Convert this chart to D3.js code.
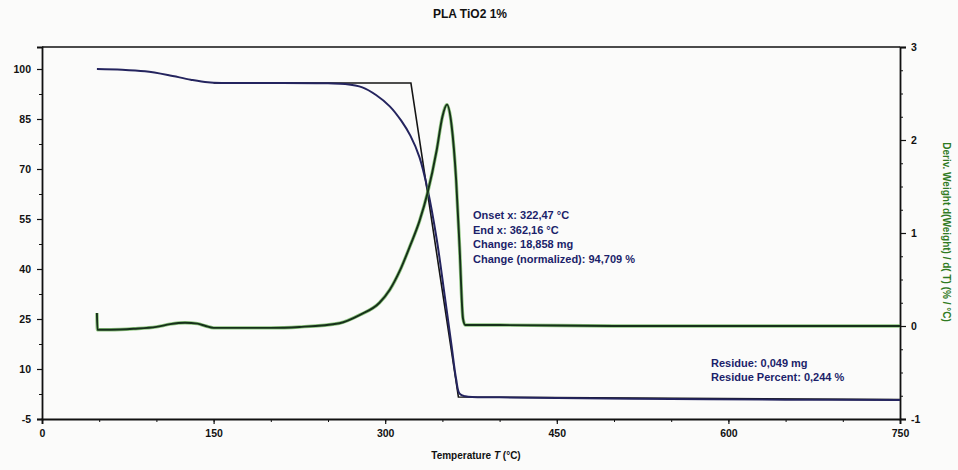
<!DOCTYPE html>
<html>
<head>
<meta charset="utf-8">
<script src="https://cdn.jsdelivr.net/npm/d3@7"></script>
<style>
  html, body { margin: 0; padding: 0; background: #fbfbfa; }
  svg { display: block; font-family: "Liberation Sans", Arial, sans-serif; }
</style>
</head>
<body>
<svg id="chart" width="958" height="470"></svg>
<script>
// ---- data ----
const title = "PLA TiO2 1%";
const xTicks = [0, 150, 300, 450, 600, 750];
const leftTicks = [100, 85, 70, 55, 40, 25, 10, -5];
const rightTicks = [3, 2, 1, 0, -1];

// Weight (%) vs temperature (°C)
const weightT = [48, 70, 90, 110, 130, 145, 160, 200, 250, 265, 280, 292, 304, 314, 322, 330, 337, 345, 352, 358, 362, 365, 370, 400, 450, 550, 650, 750];
const weightV = [100, 99.8, 99.3, 98.2, 96.8, 96.0, 95.8, 95.8, 95.7, 95.5, 94.5, 92.2, 88.8, 84.5, 80, 73.5, 64, 49, 32, 17, 7, 2.6, 1.8, 1.5, 1.3, 1.0, 0.8, 0.7];

// Derivative weight (%/°C) vs temperature (°C)
const derivT = [48, 48.5, 60, 80, 100, 112, 125, 136, 143, 150, 160, 200, 225, 260, 278, 295, 304, 313, 322, 330, 337, 345, 350, 354, 358, 362, 365, 368, 370, 400, 500, 600, 750];
const derivV = [0.14, -0.04, -0.04, -0.03, -0.01, 0.02, 0.035, 0.025, 0.0, -0.02, -0.02, -0.02, -0.01, 0.03, 0.12, 0.25, 0.39, 0.6, 0.87, 1.13, 1.43, 1.89, 2.25, 2.38, 2.16, 1.57, 0.85, 0.08, 0.01, 0.01, 0.0, 0.0, 0.0];

// Onset / end construction line
const stepT = [150, 322.47, 364, 750];
const stepV = [95.8, 95.8, 1.6, 0.8];

const onsetLines = ["Onset x: 322,47 °C", "End x: 362,16 °C", "Change: 18,858 mg", "Change (normalized): 94,709 %"];
const residueLines = ["Residue: 0,049 mg", "Residue Percent: 0,244 %"];

// ---- layout ----
const svg = d3.select("#chart");
const L = 42, R = 900, T = 47, B = 419;

const x = d3.scaleLinear().domain([0, 750]).range([L, R]);
const yL = d3.scaleLinear().domain([-5, -5 + (B - T) * 15 / 50]).range([B, T]);
const yR = d3.scaleLinear().domain([-1, 3]).range([B, T]);

const ink = "#111";
const fmt = d => String(d);

// frame top line
svg.append("line").attr("x1", L).attr("x2", R).attr("y1", T).attr("y2", T)
  .attr("stroke", ink).attr("stroke-width", 1.6);

// minor ticks
svg.append("g").attr("transform", `translate(0,${B})`)
  .call(d3.axisBottom(x).tickValues(d3.range(0, 751, 50)).tickSize(3).tickFormat(""))
  .call(g => g.select(".domain").remove());
svg.append("g").attr("transform", `translate(${L},0)`)
  .call(d3.axisLeft(yL).tickValues(d3.range(-5, 106, 7.5)).tickSize(3).tickFormat(""))
  .call(g => g.select(".domain").remove());
svg.append("g").attr("transform", `translate(${R},0)`)
  .call(d3.axisRight(yR).tickValues(d3.range(-1, 3.01, 0.25)).tickSize(3).tickFormat(""))
  .call(g => g.select(".domain").remove());

// major axes
const xAxis = svg.append("g").attr("transform", `translate(0,${B})`)
  .call(d3.axisBottom(x).tickValues(xTicks).tickFormat(fmt).tickSize(5).tickPadding(6));
const lAxis = svg.append("g").attr("transform", `translate(${L},0)`)
  .call(d3.axisLeft(yL).tickValues(leftTicks).tickFormat(fmt).tickSize(5).tickPadding(6));
const rAxis = svg.append("g").attr("transform", `translate(${R},0)`)
  .call(d3.axisRight(yR).tickValues(rightTicks).tickFormat(fmt).tickSize(6).tickPadding(5));

[xAxis, lAxis, rAxis].forEach(a => {
  a.select(".domain").attr("stroke", ink).attr("stroke-width", 1.8);
  a.selectAll(".tick line").attr("stroke", ink).attr("stroke-width", 1.2);
  a.selectAll(".tick text").attr("fill", ink).attr("font-size", 10.5).attr("font-weight", "bold");
});
svg.selectAll("g .tick line").attr("stroke", ink);
svg.selectAll(".domain").attr("stroke", ink);

// ---- curves ----
const weightData = weightT.map((t, i) => [t, weightV[i]]);
const derivData = derivT.map((t, i) => [t, derivV[i]]);
const stepData = stepT.map((t, i) => [t, stepV[i]]);

const lineW = d3.line().x(d => x(d[0])).y(d => yL(d[1])).curve(d3.curveCatmullRom.alpha(0.5));
const lineD = d3.line().x(d => x(d[0])).y(d => yR(d[1])).curve(d3.curveMonotoneX);
const lineS = d3.line().x(d => x(d[0])).y(d => yL(d[1]));

svg.append("path").datum(stepData).attr("d", lineS)
  .attr("fill", "none").attr("stroke", "#151515").attr("stroke-width", 1.6);

svg.append("path").datum(weightData).attr("d", lineW)
  .attr("fill", "none").attr("stroke", "#24245e").attr("stroke-width", 2);

svg.append("path").datum(derivData).attr("d", lineD)
  .attr("fill", "none").attr("stroke", "#5fae4a").attr("stroke-width", 3.4).attr("stroke-opacity", 0.7);
svg.append("path").datum(derivData).attr("d", lineD)
  .attr("fill", "none").attr("stroke", "#16301a").attr("stroke-width", 1.9);

// ---- text ----
svg.append("text").attr("x", 470).attr("y", 18).attr("text-anchor", "middle")
  .attr("font-size", 12).attr("font-weight", "bold").attr("fill", ink).text(title);

const xl = svg.append("text").attr("x", 476).attr("y", 459).attr("text-anchor", "middle")
  .attr("font-size", 10).attr("font-weight", "bold").attr("fill", ink);
xl.append("tspan").text("Temperature ");
xl.append("tspan").attr("font-style", "italic").text("T");
xl.append("tspan").text(" (°C)");

svg.append("text").attr("transform", "translate(943,232) rotate(90)")
  .attr("text-anchor", "middle").attr("font-size", 10).attr("font-weight", "bold")
  .attr("fill", "#2f7a22").text("Deriv. Weight d(Weight) / d( T) (% / °C)");

const navy = "#1c1f6a";
onsetLines.forEach((s, i) => {
  svg.append("text").attr("x", 473).attr("y", 219 + i * 14.5)
    .attr("font-size", 11).attr("font-weight", "bold").attr("fill", navy).text(s);
});
residueLines.forEach((s, i) => {
  svg.append("text").attr("x", 711).attr("y", 367 + i * 14)
    .attr("font-size", 11).attr("font-weight", "bold").attr("fill", navy).text(s);
});
</script>
</body>
</html>
